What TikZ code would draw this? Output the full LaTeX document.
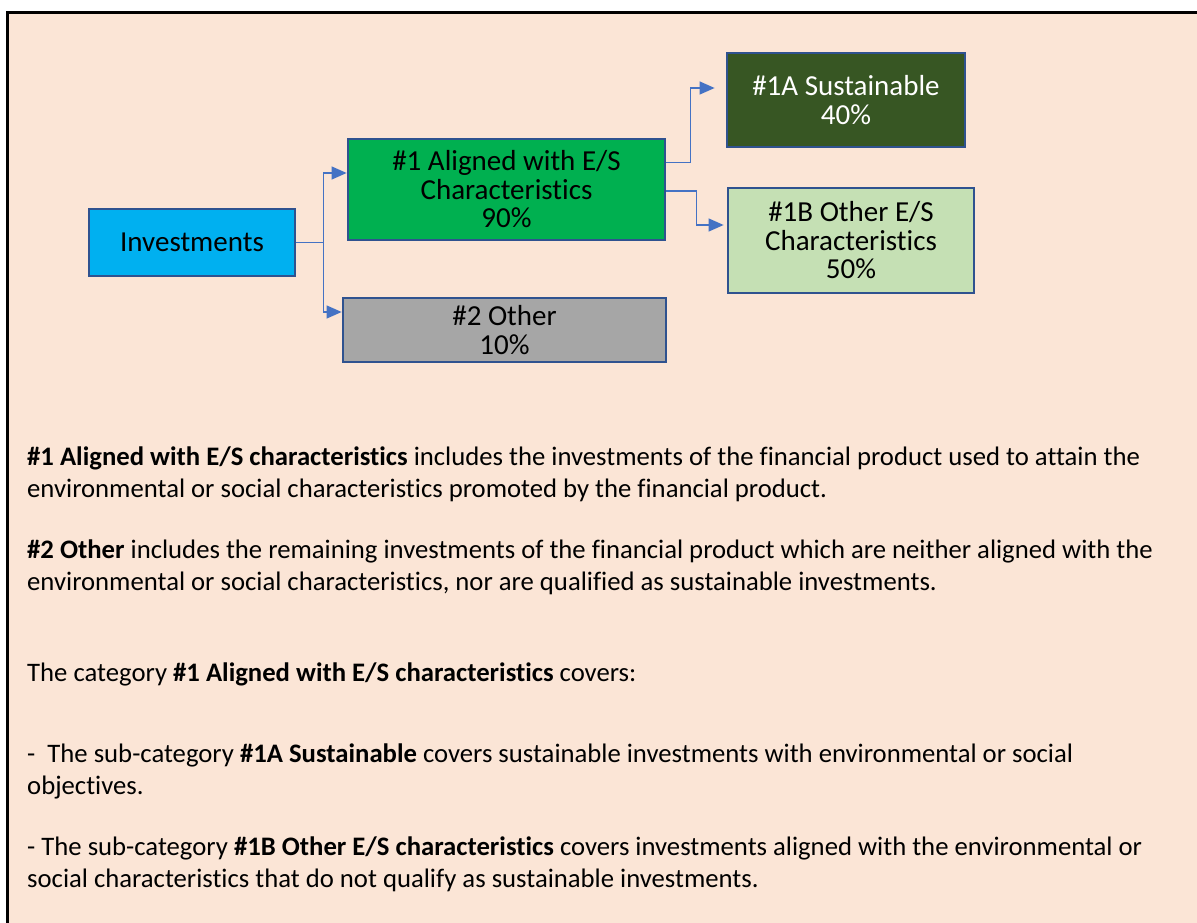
\documentclass[tikz,border=0pt]{standalone}
\usepackage{fontspec}
\setmainfont{Carlito}[Ligatures={NoCommon,NoDiscretionary}]
\usetikzlibrary{arrows.meta,positioning}
\definecolor{peach}{HTML}{FBE5D6}
\definecolor{edgeblue}{HTML}{2F528F}
\definecolor{linkblue}{HTML}{4472C4}
\definecolor{skyfill}{HTML}{00B0F0}
\definecolor{greenfill}{HTML}{00B050}
\definecolor{greyfill}{HTML}{A6A6A6}
\definecolor{darkgreen}{HTML}{375623}
\definecolor{palegreen}{HTML}{C5E0B4}

\begin{document}
\begin{tikzpicture}[x=1pt, y=-1pt,
  box/.style={draw=edgeblue, line width=2.8pt, align=center, inner sep=0pt,
              font=\fontsize{29}{28.5}\selectfont},
  conn/.style={draw=linkblue, line width=1.3pt, -{Triangle[length=15pt,width=13pt]}},
  para/.style={anchor=base west, align=left, inner sep=0pt,
               font=\fontsize{26.7}{32}\selectfont}]
\clip (0,0) rectangle (1197,923);
\fill[peach, draw=black, line width=3pt] (7,12.3) rectangle (1215,940);

% diagram
\node[box, fill=skyfill, minimum width=206pt, minimum height=67pt] (inv) at (192,242.5) {Investments};
\node[box, fill=greenfill, minimum width=317pt, minimum height=101pt] (al) at (506.5,189.5)
  {\#1 Aligned with E/S\\Characteristics\\90\%};
\node[box, fill=greyfill, minimum width=323pt, minimum height=64pt] (oth) at (504.5,330)
  {\#2 Other\\10\%};
\node[box, fill=darkgreen, text=white, minimum width=238pt, minimum height=94pt] (sust) at (846,100)
  {\#1A Sustainable\\40\%};
\node[box, fill=palegreen, minimum width=246pt, minimum height=105pt] (oes) at (851,240.5)
  {\#1B Other E/S\\Characteristics\\50\%};

\coordinate[right=27pt of inv.east] (split);
\draw[linkblue, line width=1.3pt] (inv.east) -- (split);
\draw[conn] (split) |- ([yshift=16.5pt]al.west);
\draw[conn] (split) |- ([yshift=18pt]oth.west);
\draw[conn] ([yshift=27pt]al.east) -- ++(24,0) |- ([yshift=12pt,xshift=-11pt]sust.west);
\draw[conn] ([yshift=-1.5pt]al.east) -- ++(30,0) |- ([yshift=15.5pt,xshift=-3pt]oes.west);

% explanations (anchored on the last line)
\node[para] (p1) at (27,497) {\textbf{\#1 Aligned with E/S characteristics} includes the investments of the financial product used to attain the\\
  environmental or social characteristics promoted by the financial product.};
\node[para] (p2) at (27,590) {\textbf{\#2 Other} includes the remaining investments of the financial product which are neither aligned with the\\
  environmental or social characteristics, nor are qualified as sustainable investments.};
\node[para] (p3) at (27,681) {The category \textbf{\#1 Aligned with E/S characteristics} covers:};
\node[para] (p4) at (27,794) {-\ \ The sub-category \textbf{\#1A Sustainable} covers sustainable investments with environmental or social\\
  objectives.};
\node[para] (p5) at (27,887) {- The sub-category \textbf{\#1B Other E/S characteristics} covers investments aligned with the environmental or\\
  social characteristics that do not qualify as sustainable investments.};
\end{tikzpicture}
\end{document}
